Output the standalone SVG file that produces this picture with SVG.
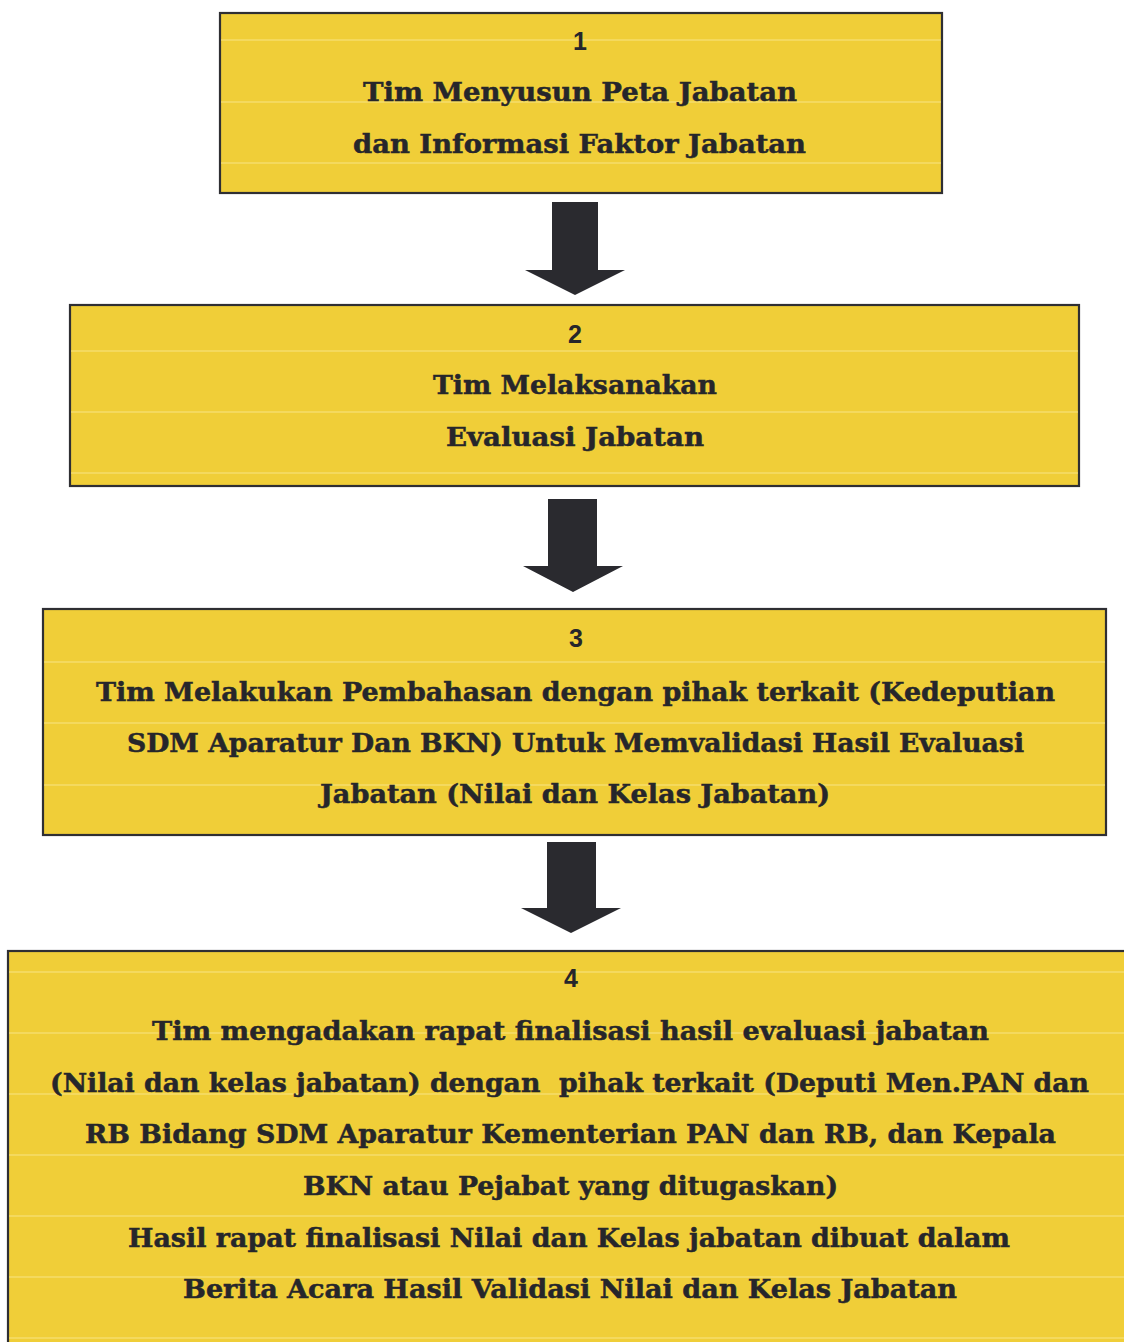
<svg xmlns="http://www.w3.org/2000/svg" width="1124" height="1342" viewBox="0 0 1124 1342">
<style>
.box{fill:#F0CE38;stroke:#2f2f33;stroke-width:2.2}
.stripe{stroke:#F8E27C;stroke-width:1.5;opacity:0.75}
.t{font-family:"DejaVu Serif","Liberation Serif",serif;font-weight:bold;font-size:26px;fill:#26262b;stroke:#26262b;stroke-width:0.5}
.n{font-family:"Liberation Sans","DejaVu Sans",sans-serif;font-weight:bold;font-size:25px;fill:#26262b;text-anchor:middle}
.arrow{fill:#2a2a2f}
</style>
<rect width="1124" height="1342" fill="#ffffff"/>
<g id="connectors">
<polygon class="arrow" points="552,202 598,202 598,270 625,270 575,295 525,270 552,270"/>
<polygon class="arrow" points="548,499 597,499 597,566 623,566 573,592 523,566 548,566"/>
<polygon class="arrow" points="547,842 596,842 596,908 621,908 571,933 521,908 547,908"/>
</g>
<g id="node1">
<rect class="box" x="220" y="13" width="722" height="180"/>
<g class="stripe"><line x1="221" y1="40" x2="941" y2="40"/><line x1="221" y1="102" x2="941" y2="102"/><line x1="221" y1="163" x2="941" y2="163"/></g>
<text class="n" x="580" y="50">1</text>
<text class="t" x="363" y="101" textLength="434" lengthAdjust="spacingAndGlyphs">Tim Menyusun Peta Jabatan</text>
<text class="t" x="353" y="153" textLength="453" lengthAdjust="spacingAndGlyphs">dan Informasi Faktor Jabatan</text>
</g>
<g id="node2">
<rect class="box" x="70" y="305" width="1009" height="181"/>
<g class="stripe"><line x1="71" y1="351" x2="1078" y2="351"/><line x1="71" y1="412" x2="1078" y2="412"/><line x1="71" y1="473" x2="1078" y2="473"/></g>
<text class="n" x="575" y="343">2</text>
<text class="t" x="433" y="394" textLength="284" lengthAdjust="spacingAndGlyphs">Tim Melaksanakan</text>
<text class="t" x="446" y="446" textLength="258" lengthAdjust="spacingAndGlyphs">Evaluasi Jabatan</text>
</g>
<g id="node3">
<rect class="box" x="43" y="609" width="1063" height="226"/>
<g class="stripe"><line x1="44" y1="662" x2="1105" y2="662"/><line x1="44" y1="723" x2="1105" y2="723"/><line x1="44" y1="785" x2="1105" y2="785"/></g>
<text class="n" x="576" y="647">3</text>
<text class="t" x="96" y="701" textLength="959" lengthAdjust="spacingAndGlyphs">Tim Melakukan Pembahasan dengan pihak terkait (Kedeputian</text>
<text class="t" x="127" y="752" textLength="897" lengthAdjust="spacingAndGlyphs">SDM Aparatur Dan BKN) Untuk Memvalidasi Hasil Evaluasi</text>
<text class="t" x="320" y="803" textLength="510" lengthAdjust="spacingAndGlyphs">Jabatan (Nilai dan Kelas Jabatan)</text>
</g>
<g id="node4">
<rect class="box" x="8" y="951" width="1130" height="400"/>
<g class="stripe"><line x1="9" y1="972" x2="1124" y2="972"/><line x1="9" y1="1033" x2="1124" y2="1033"/><line x1="9" y1="1094" x2="1124" y2="1094"/><line x1="9" y1="1155" x2="1124" y2="1155"/><line x1="9" y1="1216" x2="1124" y2="1216"/><line x1="9" y1="1277" x2="1124" y2="1277"/><line x1="9" y1="1338" x2="1124" y2="1338"/></g>
<text class="n" x="571" y="987">4</text>
<text class="t" x="152" y="1040" textLength="837" lengthAdjust="spacingAndGlyphs">Tim mengadakan rapat finalisasi hasil evaluasi jabatan</text>
<text class="t" x="50" y="1092" textLength="1039" lengthAdjust="spacingAndGlyphs" xml:space="preserve">(Nilai dan kelas jabatan) dengan  pihak terkait (Deputi Men.PAN dan</text>
<text class="t" x="85" y="1143" textLength="971" lengthAdjust="spacingAndGlyphs">RB Bidang SDM Aparatur Kementerian PAN dan RB, dan Kepala</text>
<text class="t" x="303" y="1195" textLength="535" lengthAdjust="spacingAndGlyphs">BKN atau Pejabat yang ditugaskan)</text>
<text class="t" x="128" y="1247" textLength="882" lengthAdjust="spacingAndGlyphs">Hasil rapat finalisasi Nilai dan Kelas jabatan dibuat dalam</text>
<text class="t" x="183" y="1298" textLength="774" lengthAdjust="spacingAndGlyphs">Berita Acara Hasil Validasi Nilai dan Kelas Jabatan</text>
</g>
</svg>
